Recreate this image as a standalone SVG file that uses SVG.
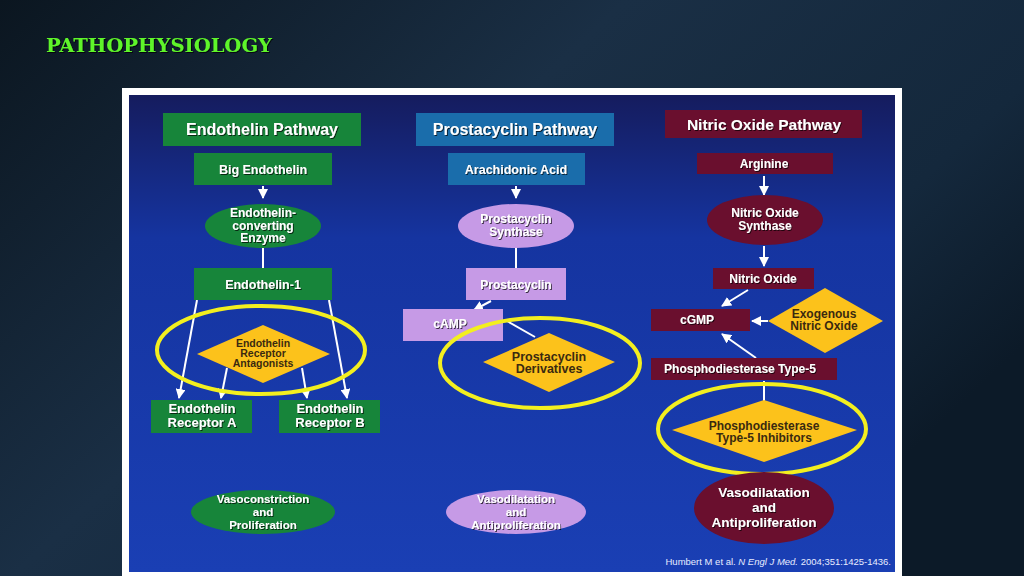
<svg xmlns="http://www.w3.org/2000/svg" width="1024" height="576" viewBox="0 0 1024 576">
<defs>
<linearGradient id="bg" x1="0" y1="0" x2="1" y2="0.6">
<stop offset="0" stop-color="#0b1620"/>
<stop offset="0.45" stop-color="#1a2f45"/>
<stop offset="0.8" stop-color="#14283c"/>
<stop offset="1" stop-color="#0c1a28"/>
</linearGradient>
<linearGradient id="panel" x1="0" y1="0" x2="0" y2="1">
<stop offset="0" stop-color="#151c5e"/>
<stop offset="0.3" stop-color="#1534a0"/>
<stop offset="1" stop-color="#1a3fb4"/>
</linearGradient>
<marker id="ah" viewBox="0 0 10 10" refX="9" refY="5" markerWidth="5" markerHeight="5" orient="auto-start-reverse">
<path d="M0,0 L10,5 L0,10 z" fill="#ffffff"/>
</marker>
<filter id="sh" x="-10%" y="-10%" width="120%" height="130%">
<feDropShadow dx="1" dy="1" stdDeviation="0.4" flood-color="#000" flood-opacity="0.7"/>
</filter>
</defs>
<style>
text{font-family:"Liberation Sans",Arial,sans-serif;font-weight:bold;text-anchor:middle}
.w{fill:#ffffff}
.d{fill:#3a2a10}
.g{fill:#17853a}
.b{fill:#1a6dab}
.l{fill:#c69ae6}
.m{fill:#6a0f2e}
.y{fill:#fcc21b}
.ring{fill:none;stroke:#f3ef1f;stroke-width:4}
.c{stroke:#ffffff;stroke-width:2;fill:none}
</style>
<rect width="1024" height="576" fill="url(#bg)"/>
<text x="46" y="52" textLength="226" lengthAdjust="spacingAndGlyphs" style="font-family:'DejaVu Serif','Liberation Serif',serif;font-size:19px;text-anchor:start;fill:#5ef52a" filter="url(#sh)">PATHOPHYSIOLOGY</text>
<rect x="122" y="88" width="780" height="488" fill="#ffffff"/>
<rect x="129" y="95" width="766" height="477" fill="url(#panel)"/>

<g id="connectors">
<line class="c" x1="263" y1="186" x2="263" y2="198" marker-end="url(#ah)"/>
<line class="c" x1="263" y1="248" x2="263" y2="268"/>
<line class="c" x1="197" y1="300" x2="179" y2="398" marker-end="url(#ah)"/>
<line class="c" x1="329" y1="300" x2="347" y2="398" marker-end="url(#ah)"/>
<line class="c" x1="227" y1="368" x2="221" y2="398" marker-end="url(#ah)"/>
<line class="c" x1="302" y1="368" x2="307" y2="398" marker-end="url(#ah)"/>
<line class="c" x1="516" y1="186" x2="516" y2="198" marker-end="url(#ah)"/>
<line class="c" x1="516" y1="248" x2="516" y2="268"/>
<line class="c" x1="491" y1="301" x2="474" y2="310" marker-end="url(#ah)"/>
<line class="c" x1="507" y1="321" x2="535" y2="337"/>
<line class="c" x1="764" y1="176" x2="764" y2="195" marker-end="url(#ah)"/>
<line class="c" x1="764" y1="246" x2="764" y2="266" marker-end="url(#ah)"/>
<line class="c" x1="748" y1="290" x2="722" y2="306" marker-end="url(#ah)"/>
<line class="c" x1="768" y1="321" x2="752" y2="321" marker-end="url(#ah)"/>
<line class="c" x1="756" y1="358" x2="722" y2="334" marker-end="url(#ah)"/>
<line class="c" x1="764" y1="381" x2="764" y2="401"/>
</g>

<g id="endothelin-pathway">
<rect class="g" x="163" y="113" width="198" height="33"/>
<text class="w" x="262" y="135" font-size="16" filter="url(#sh)">Endothelin Pathway</text>
</g>
<g id="big-endothelin">
<rect class="g" x="194" y="153" width="138" height="32"/>
<text class="w" x="263" y="174" font-size="12.5" filter="url(#sh)">Big Endothelin</text>
</g>
<g id="ece">
<ellipse class="g" cx="263" cy="226" rx="58" ry="22"/>
<text class="w" font-size="12" filter="url(#sh)"><tspan x="263" y="217">Endothelin-</tspan><tspan x="263" y="230">converting</tspan><tspan x="263" y="242">Enzyme</tspan></text>
</g>
<g id="endothelin-1">
<rect class="g" x="194" y="268" width="138" height="32"/>
<text class="w" x="263" y="289" font-size="12.5" filter="url(#sh)">Endothelin-1</text>
</g>
<g id="era">
<polygon class="y" points="197,354 263,325 330,354 263,383"/>
<text class="d" font-size="10.5"><tspan x="263" y="347">Endothelin</tspan><tspan x="263" y="357">Receptor</tspan><tspan x="263" y="367">Antagonists</tspan></text>
<ellipse class="ring" cx="261" cy="350" rx="104" ry="44"/>
</g>
<g id="receptor-a">
<rect class="g" x="151" y="400" width="101" height="33"/>
<text class="w" font-size="13" filter="url(#sh)"><tspan x="202" y="413">Endothelin</tspan><tspan x="202" y="427">Receptor A</tspan></text>
</g>
<g id="receptor-b">
<rect class="g" x="279" y="400" width="101" height="33"/>
<text class="w" font-size="13" filter="url(#sh)"><tspan x="330" y="413">Endothelin</tspan><tspan x="330" y="427">Receptor B</tspan></text>
</g>
<g id="vasoconstriction">
<ellipse class="g" cx="263" cy="512" rx="72" ry="22"/>
<text class="w" font-size="11.5" filter="url(#sh)"><tspan x="263" y="503">Vasoconstriction</tspan><tspan x="263" y="516">and</tspan><tspan x="263" y="529">Proliferation</tspan></text>
</g>

<g id="prostacyclin-pathway">
<rect class="b" x="416" y="113" width="198" height="33"/>
<text class="w" x="515" y="135" font-size="16" filter="url(#sh)">Prostacyclin Pathway</text>
</g>
<g id="arachidonic-acid">
<rect class="b" x="448" y="153" width="137" height="32"/>
<text class="w" x="516" y="174" font-size="12.5" filter="url(#sh)">Arachidonic Acid</text>
</g>
<g id="prostacyclin-synthase">
<ellipse class="l" cx="516" cy="226" rx="58" ry="22"/>
<text class="w" font-size="12" filter="url(#sh)"><tspan x="516" y="223">Prostacyclin</tspan><tspan x="516" y="236">Synthase</tspan></text>
</g>
<g id="prostacyclin">
<rect class="l" x="466" y="268" width="100" height="32"/>
<text class="w" x="516" y="289" font-size="12" filter="url(#sh)">Prostacyclin</text>
</g>
<g id="camp">
<rect class="l" x="403" y="309" width="100" height="32"/>
<text class="w" x="450" y="328" font-size="12" filter="url(#sh)">cAMP</text>
</g>
<g id="prostacyclin-derivatives">
<polygon class="y" points="483,362 549,333 615,362 549,392"/>
<text class="d" font-size="12.5"><tspan x="549" y="361">Prostacyclin</tspan><tspan x="549" y="373">Derivatives</tspan></text>
<ellipse class="ring" cx="540" cy="363" rx="100" ry="45"/>
</g>
<g id="vasodilatation-p">
<ellipse class="l" cx="516" cy="512" rx="70" ry="22"/>
<text class="w" font-size="11.5" filter="url(#sh)"><tspan x="516" y="503">Vasodilatation</tspan><tspan x="516" y="516">and</tspan><tspan x="516" y="529">Antiproliferation</tspan></text>
</g>

<g id="nitric-oxide-pathway">
<rect class="m" x="665" y="110" width="197" height="28"/>
<text class="w" x="764" y="130" font-size="15.5" filter="url(#sh)">Nitric Oxide Pathway</text>
</g>
<g id="arginine">
<rect class="m" x="697" y="153" width="136" height="21"/>
<text class="w" x="764" y="168" font-size="12" filter="url(#sh)">Arginine</text>
</g>
<g id="nos">
<ellipse class="m" cx="765" cy="220" rx="58" ry="25"/>
<text class="w" font-size="12" filter="url(#sh)"><tspan x="765" y="217">Nitric Oxide</tspan><tspan x="765" y="230">Synthase</tspan></text>
</g>
<g id="nitric-oxide">
<rect class="m" x="713" y="268" width="101" height="21"/>
<text class="w" x="763" y="283" font-size="12" filter="url(#sh)">Nitric Oxide</text>
</g>
<g id="cgmp">
<rect class="m" x="651" y="309" width="99" height="22"/>
<text class="w" x="697" y="324" font-size="12" filter="url(#sh)">cGMP</text>
</g>
<g id="exogenous-no">
<polygon class="y" points="768,321 825,288 883,321 825,353"/>
<text class="d" font-size="12"><tspan x="824" y="318">Exogenous</tspan><tspan x="824" y="330">Nitric Oxide</tspan></text>
</g>
<g id="pde5">
<rect class="m" x="651" y="358" width="186" height="22"/>
<text class="w" x="740" y="373" font-size="12" filter="url(#sh)">Phosphodiesterase Type-5</text>
</g>
<g id="pde5-inhibitors">
<polygon class="y" points="672,430 764,400 857,430 764,462"/>
<text class="d" font-size="12"><tspan x="764" y="430">Phosphodiesterase</tspan><tspan x="764" y="442">Type-5 Inhibitors</tspan></text>
<ellipse class="ring" cx="762" cy="429" rx="104" ry="45"/>
</g>
<g id="vasodilatation-no">
<ellipse class="m" cx="764" cy="508" rx="70" ry="36"/>
<text class="w" font-size="13.5" filter="url(#sh)"><tspan x="764" y="497">Vasodilatation</tspan><tspan x="764" y="512">and</tspan><tspan x="764" y="527">Antiproliferation</tspan></text>
</g>
<text x="891" y="565" style="text-anchor:end;font-weight:normal;font-size:9.5px;fill:#e8ecff">Humbert M et al. <tspan font-style="italic">N Engl J Med.</tspan> 2004;351:1425-1436.</text>
</svg>
